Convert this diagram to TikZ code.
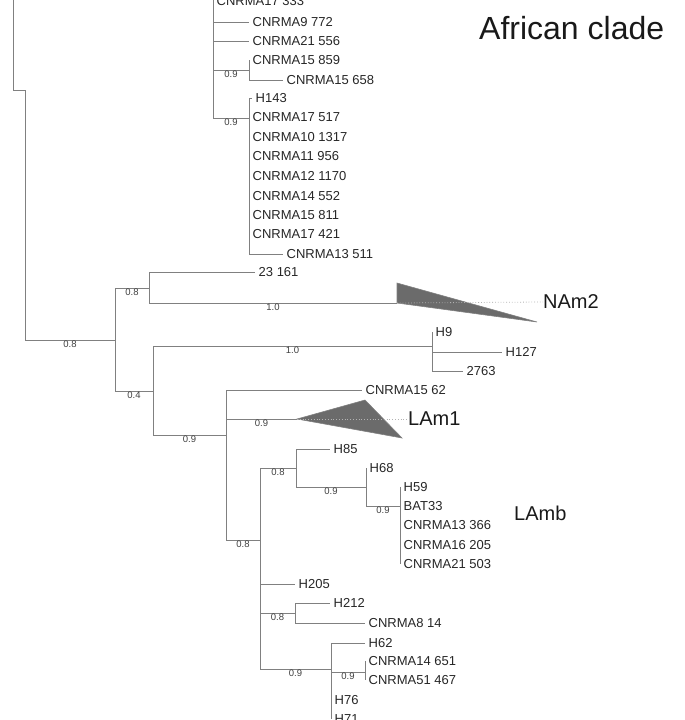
\documentclass[tikz,border=0pt]{standalone}
\usepackage{fontspec}
\setmainfont{Liberation Sans}
\begin{document}
\begin{tikzpicture}[x=1pt,y=-1pt,
        branch/.style={draw=black!50,line width=1pt},
        leaf/.style={anchor=west,inner xsep=3.5pt,inner ysep=0pt,text=black!85,font=\fontsize{13}{15}\selectfont},
        supp/.style={below,inner sep=0.6pt,text=black!75,font=\fontsize{9.5}{10}\selectfont},
        clade/.style={anchor=west,inner sep=0pt,text=black!90,font=\fontsize{20}{22}\selectfont},
        tri/.style={fill=black!58,draw=black!50,line width=0.6pt},
        dots/.style={draw=black!30,dotted,line width=0.8pt}]
        \useasboundingbox (0,0) rectangle (685,720);

        % inner nodes of the tree
        \coordinate (top) at (13,-6);
        \coordinate (n1) at (25,90);
        \coordinate (n2) at (115,340);
        \coordinate (n3) at (149,288);
        \coordinate (n4) at (153,391);
        \coordinate (n5) at (432,346);
        \coordinate (n6) at (226,435);
        \coordinate (n7) at (260,540);
        \coordinate (n8) at (296,468);
        \coordinate (n9) at (295,613);
        \coordinate (n10) at (331,669);
        \coordinate (n11) at (366,487);
        \coordinate (n12) at (400,506);
        \coordinate (n13) at (365,672);
        \coordinate (af) at (213,-6);
        \coordinate (af1) at (249,70);
        \coordinate (af2) at (249,118);
        \coordinate (nam) at (397,303);
        \coordinate (lam) at (297,419);

        % African clade
        \node (c333) at (213,1) [leaf] {CNRMA17 333};
        \node (c772) at (249,22) [leaf] {CNRMA9 772};
        \node (c556) at (249,41) [leaf] {CNRMA21 556};
        \node (c859) at (249,60) [leaf] {CNRMA15 859};
        \node (c658) at (283,80) [leaf] {CNRMA15 658};
        \node (h143) at (252,98) [leaf] {H143};
        \node (c517) at (249,117) [leaf] {CNRMA17 517};
        \node (c1317) at (249,137) [leaf] {CNRMA10 1317};
        \node (c956) at (249,156) [leaf] {CNRMA11 956};
        \node (c1170) at (249,176) [leaf] {CNRMA12 1170};
        \node (c552) at (249,196) [leaf] {CNRMA14 552};
        \node (c811) at (249,215) [leaf] {CNRMA15 811};
        \node (c421) at (249,234) [leaf] {CNRMA17 421};
        \node (c511) at (283,254) [leaf] {CNRMA13 511};

        % American lineages
        \node (l23) at (255,272) [leaf] {23 161};
        \node (h9) at (432,332) [leaf] {H9};
        \node (h127) at (502,352) [leaf] {H127};
        \node (l2763) at (463,371) [leaf] {2763};
        \node (c62) at (362,390) [leaf] {CNRMA15 62};
        \node (h85) at (330,449) [leaf] {H85};
        \node (h68) at (366,468) [leaf] {H68};
        \node (h59) at (400,487) [leaf] {H59};
        \node (bat33) at (400,506) [leaf] {BAT33};
        \node (c366) at (400,525) [leaf] {CNRMA13 366};
        \node (c205) at (400,545) [leaf] {CNRMA16 205};
        \node (c503) at (400,564) [leaf] {CNRMA21 503};
        \node (h205) at (295,584) [leaf] {H205};
        \node (h212) at (330,603) [leaf] {H212};
        \node (c14) at (365,623) [leaf] {CNRMA8 14};
        \node (h62) at (365,643) [leaf] {H62};
        \node (c651) at (365,661) [leaf] {CNRMA14 651};
        \node (c467) at (365,680) [leaf] {CNRMA51 467};
        \node (h76) at (331,700) [leaf] {H76};
        \node (h71) at (331,719) [leaf] {H71};

        % clade names
        \node (afr) at (479,28) [clade,font=\fontsize{32}{34}\selectfont] {African clade};
        \node (nam2) at (543,302) [clade] {NAm2};
        \node (lam1) at (408,419) [clade] {LAm1};
        \node (lamb) at (514,513) [clade] {LAmb};

        % branches
        \draw[branch] (top) |- (n1);
        \draw[branch] (n1) |- (n2) node[supp,pos=0.75] {0.8};
        \draw[branch] (n2) |- (n3) node[supp,pos=0.75] {0.8};
        \draw[branch] (n2) |- (n4) node[supp,pos=0.75] {0.4};
        \draw[branch] (n3) |- (l23.west);
        \draw[branch] (n3) |- (nam) node[supp,pos=0.75] {1.0};
        \draw[branch] (n4) |- (n5) node[supp,pos=0.75] {1.0};
        \draw[branch] (n4) |- (n6) node[supp,pos=0.75] {0.9};
        \draw[branch] (n5) |- (h9.west);
        \draw[branch] (n5) |- (h127.west);
        \draw[branch] (n5) |- (l2763.west);
        \draw[branch] (n6) |- (c62.west);
        \draw[branch] (n6) |- (lam) node[supp,pos=0.75] {0.9};
        \draw[branch] (n6) |- (n7) node[supp,pos=0.75] {0.8};
        \draw[branch] (n7) |- (n8) node[supp,pos=0.75] {0.8};
        \draw[branch] (n7) |- (h205.west);
        \draw[branch] (n7) |- (n9) node[supp,pos=0.75] {0.8};
        \draw[branch] (n7) |- (n10) node[supp,pos=0.75] {0.9};
        \draw[branch] (n8) |- (h85.west);
        \draw[branch] (n8) |- (n11) node[supp,pos=0.75] {0.9};
        \draw[branch] (n11) |- (h68.west);
        \draw[branch] (n11) |- (n12) node[supp,pos=0.75] {0.9};
        \foreach \t in {h59,bat33,c366,c205,c503}
            \draw[branch] (n12) |- (\t.west);
        \draw[branch] (n9) |- (h212.west);
        \draw[branch] (n9) |- (c14.west);
        \draw[branch] (n10) |- (h62.west);
        \draw[branch] (n10) |- (n13) node[supp,pos=0.75] {0.9};
        \draw[branch] (n10) |- (h76.west);
        \draw[branch] (n10) |- (h71.west);
        \draw[branch] (n13) |- (c651.west);
        \draw[branch] (n13) |- (c467.west);

        \foreach \t in {c333,c772,c556}
            \draw[branch] (af) |- (\t.west);
        \draw[branch] (af) |- (af1) node[supp,pos=0.75] {0.9};
        \draw[branch] (af) |- (af2) node[supp,pos=0.75] {0.9};
        \draw[branch] (af1) |- (c859.west);
        \draw[branch] (af1) |- (c658.west);
        \foreach \t in {h143,c517,c1317,c956,c1170,c552,c811,c421,c511}
            \draw[branch] (af2) |- (\t.west);

        % collapsed clades
        \filldraw[tri] (nam) -- ++(0,-20) -- ++(140,39) -- cycle;
        \filldraw[tri] (lam) -- ++(68,-19) -- ++(37,38) -- cycle;
        \draw[dots] (nam) -- (nam2.west);
        \draw[dots] (lam) -- (lam1.west);
    \end{tikzpicture}
\end{document}
